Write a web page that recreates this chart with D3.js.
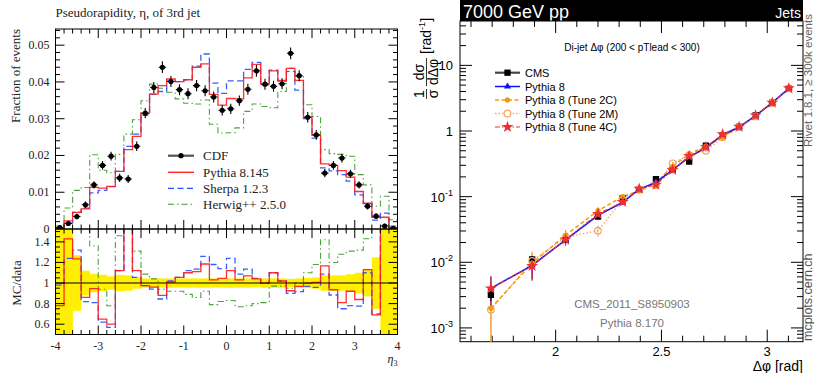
<!DOCTYPE html>
<html><head><meta charset="utf-8">
<script src="https://cdn.jsdelivr.net/npm/d3@7"></script>
<style>body{margin:0;background:#fff}svg{display:block}</style>
</head><body>
<svg id="c" width="814" height="373"></svg>
<script>
// ---------------- LEFT PANEL DATA ----------------
const etaEdges = [-4,-3.8,-3.6,-3.4,-3.2,-3,-2.8,-2.6,-2.4,-2.2,-2,-1.8,-1.6,-1.4,-1.2,-1,-0.8,-0.6,-0.4,-0.2,0,0.2,0.4,0.6,0.8,1,1.2,1.4,1.6,1.8,2,2.2,2.4,2.6,2.8,3,3.2,3.4,3.6,3.8,4];
const cdf = [0.0004,0.0015,0.0034,0.0066,0.0120,0.0173,0.0198,0.0139,0.0136,0.0225,0.0315,0.0385,0.0440,0.0401,0.0379,0.0368,0.0390,0.0376,0.0359,0.0323,0.0327,0.0349,0.0380,0.0430,0.0394,0.0388,0.0395,0.0478,0.0417,0.0304,0.0256,0.0152,0.0173,0.0193,0.0150,0.0120,0.0062,0.0035,0.0008,0.0002];
const cdfErr = [0.0004,0.0006,0.0008,0.0009,0.0010,0.0012,0.0012,0.0011,0.0011,0.0013,0.0014,0.0015,0.0016,0.0015,0.0015,0.0015,0.0015,0.0015,0.0015,0.0014,0.0014,0.0014,0.0015,0.0016,0.0015,0.0015,0.0015,0.0016,0.0015,0.0014,0.0013,0.0011,0.0012,0.0012,0.0011,0.0010,0.0009,0.0008,0.0006,0.0004];
const pythia = [0.0003,0.0022,0.0045,0.0055,0.0113,0.0111,0.0116,0.0157,0.0216,0.0252,0.0315,0.0367,0.0390,0.0408,0.0401,0.0406,0.0440,0.0449,0.0366,0.0337,0.0355,0.0354,0.0411,0.0448,0.0394,0.0430,0.0404,0.0437,0.0404,0.0304,0.0255,0.0177,0.0173,0.0159,0.0141,0.0102,0.0070,0.0032,0.0032,0.0004];
const sherpa = [0.0004,0.0016,0.0045,0.0057,0.0098,0.0105,0.0115,0.0157,0.0225,0.0258,0.0310,0.0367,0.0374,0.0403,0.0401,0.0406,0.0443,0.0476,0.0397,0.0369,0.0403,0.0403,0.0434,0.0453,0.0391,0.0432,0.0402,0.0429,0.0378,0.0300,0.0247,0.0166,0.0158,0.0148,0.0130,0.0093,0.0069,0.0024,0.0043,0.0008];
const herwig = [0.0008,0.0057,0.0105,0.0113,0.0202,0.0160,0.0153,0.0203,0.0258,0.0297,0.0349,0.0394,0.0383,0.0372,0.0354,0.0342,0.0340,0.0351,0.0285,0.0261,0.0262,0.0275,0.0320,0.0340,0.0333,0.0330,0.0374,0.0437,0.0415,0.0338,0.0306,0.0216,0.0205,0.0203,0.0198,0.0148,0.0120,0.0062,0.0089,0.0025];
const bandHalf = [1,1,0.27,0.12,0.09,0.08,0.065,0.08,0.075,0.055,0.045,0.045,0.045,0.045,0.045,0.045,0.045,0.045,0.045,0.045,0.045,0.045,0.045,0.04,0.045,0.045,0.045,0.04,0.045,0.05,0.055,0.075,0.075,0.075,0.085,0.1,0.13,0.25,1,1];
const ratioPythia = [0.78,1.43,1.235,0.86,0.945,0.65,0.60,1.12,1.60,1.12,0.975,0.96,0.88,1.01,1.055,1.10,1.11,1.185,1.03,1.045,1.12,1.03,1.07,1.04,1.00,1.10,1.02,0.925,0.967,1.00,1.006,1.167,0.935,0.81,0.92,0.84,1.13,0.69,2.0,2.0];
const ratioSherpa = [0.98,1.24,1.32,0.82,0.81,0.62,0.57,1.12,1.70,1.055,0.975,0.94,0.845,1.02,1.055,1.12,1.135,1.26,1.18,1.14,1.24,1.087,1.135,1.045,1.00,1.10,1.02,0.90,0.916,0.967,0.957,1.087,0.884,0.75,0.78,0.775,1.10,0.70,2.0,2.0];
const ratioHerwig = [2.0,2.0,2.0,2.0,1.36,0.94,0.78,1.46,2.0,1.31,1.087,1.04,0.94,0.92,0.92,0.89,0.86,0.92,0.79,0.82,0.83,0.77,0.78,0.80,0.81,0.97,0.97,0.95,1.0,1.1,1.18,1.42,1.2,1.28,1.31,1.32,1.43,2.0,2.0,2.0];
const etaTicks = [-4,-3,-2,-1,0,1,2,3,4];
const fracTicks = [0,0.01,0.02,0.03,0.04,0.05];
const fracTickLabels = ["0","0.01","0.02","0.03","0.04","0.05"];
const ratioTicks = [0.6,0.8,1,1.2,1.4];
const ratioTickLabels = ["0.6","0.8","1","1.2","1.4"];
const leftLegend = ["CDF","Pythia 8.145","Sherpa 1.2.3","Herwig++ 2.5.0"];

// ---------------- RIGHT PANEL DATA ----------------
const dphi = [1.694,1.889,2.047,2.200,2.317,2.395,2.474,2.553,2.631,2.710,2.789,2.867,2.945,3.024,3.102];
const cms = [0.00318,0.0111,0.0219,0.0495,0.095,0.127,0.184,0.26,0.341,0.597,0.85,1.16,1.73,2.70,4.47];
const cmsErr = [0.0006,0.0012,0.0015,0.003,0.004,0.005,0.006,0.008,0.01,0.015,0.02,0.025,0.03,0.04,0.06];
const py8 = [0.0040,0.0090,0.0220,0.052,0.082,0.130,0.165,0.255,0.40,0.56,0.87,1.15,1.72,2.70,4.45];
const py8Err = [0.0021,0.0035,0.004,0.006,0.007,0.008,0.01,0.012,0.02,0.02,0.03,0.03,0.04,0.05,0.06];
const tune2c = [0.0020,0.0097,0.026,0.061,0.100,0.122,0.162,0.29,0.447,0.59,0.80,1.14,1.70,2.70,4.47];
const tune2cErr = [0.0020,0.0045,0.005,0.008,0.01,0.01,0.012,0.015,0.02,0.02,0.03,0.03,0.04,0.05,0.06];
const tune2m = [0.0019,0.0105,0.024,0.0303,0.090,0.130,0.150,0.322,0.43,0.50,0.80,1.15,1.67,2.68,4.47];
const tune2mErr = [0.0019,0.004,0.005,0.006,0.01,0.01,0.012,0.015,0.02,0.02,0.03,0.03,0.04,0.05,0.06];
const tune4c = [0.0040,0.0088,0.0222,0.0544,0.083,0.132,0.152,0.255,0.416,0.57,0.89,1.16,1.73,2.70,4.47];
const tune4cErr = [0.0021,0.0035,0.004,0.006,0.007,0.008,0.01,0.012,0.02,0.02,0.03,0.03,0.04,0.05,0.06];
const dphiMajor = [2,2.5,3];
const dphiMajorLabels = ["2","2.5","3"];
const logMajor = [1e-3,1e-2,1e-1,1,10];
const logMajorLabels = [["10","-3"],["10","-2"],["10","-1"],["1",""],["10",""]];
const rightLegend = ["CMS","Pythia 8","Pythia 8 (Tune 2C)","Pythia 8 (Tune 2M)","Pythia 8 (Tune 4C)"];

// ---------------- DRAW ----------------
const svg = d3.select("#c");
const serif = "'Liberation Serif','DejaVu Serif',serif";
const sans = "'Liberation Sans',Arial,sans-serif";
const defs = svg.append("defs");

// Left geometry
const LX0 = 55.5, LX1 = 397.5, LYT = 29, LYM = 229, LYB = 334.5;
const xL = d3.scaleLinear().domain([-4,4]).range([LX0,LX1]);
const yT = d3.scaleLinear().domain([0,0.0544]).range([LYM,LYT]);
const yRt = d3.scaleLinear().domain([0.5,1.525]).range([LYB,LYM]);

defs.append("clipPath").attr("id","clipTop").append("rect").attr("x",LX0).attr("y",LYT).attr("width",LX1-LX0).attr("height",LYM-LYT);
defs.append("clipPath").attr("id","clipRat").append("rect").attr("x",LX0).attr("y",LYM).attr("width",LX1-LX0).attr("height",LYB-LYM);

const C_PY = "#ff1a1a", C_SH = "#1f4fff", C_HW = "#3a9a2a";

// Ratio band
const gRat = svg.append("g").attr("clip-path","url(#clipRat)");
gRat.selectAll("rect.band").data(bandHalf).join("rect")
  .attr("x",(d,i)=>xL(etaEdges[i])).attr("width",(d,i)=>xL(etaEdges[i+1])-xL(etaEdges[i])+0.3)
  .attr("y",d=>yRt(1+d)).attr("height",d=>yRt(1-d)-yRt(1+d)).attr("fill","#ffef00");

function stepLine(vals, y){
  const pts = etaEdges.map((e,i)=>[e, vals[Math.min(i,vals.length-1)]]);
  return d3.line().x(d=>xL(d[0])).y(d=>y(d[1])).curve(d3.curveStepAfter)(pts);
}
const styles = [
  {vals:herwig, rat:ratioHerwig, c:C_HW, dash:"6,3,1.5,3", w:1.1},
  {vals:sherpa, rat:ratioSherpa, c:C_SH, dash:"6,3.5", w:1.3},
  {vals:pythia, rat:ratioPythia, c:C_PY, dash:null, w:1.3}
];
styles.forEach(s=>{
  gRat.append("path").attr("d",stepLine(s.rat,yRt)).attr("fill","none").attr("stroke",s.c)
    .attr("stroke-width",s.w).attr("stroke-dasharray",s.dash).attr("stroke-opacity",0.9);
});
// reference line at 1
gRat.append("line").attr("x1",LX0).attr("x2",LX1).attr("y1",yRt(1)).attr("y2",yRt(1)).attr("stroke","#000").attr("stroke-width",1.1);
const gTop = svg.append("g").attr("clip-path","url(#clipTop)");
styles.forEach(s=>{
  gTop.append("path").attr("d",stepLine(s.vals,yT)).attr("fill","none").attr("stroke",s.c)
    .attr("stroke-width",s.w).attr("stroke-dasharray",s.dash).attr("stroke-opacity",0.9);
});
// CDF points
const cen = cdf.map((v,i)=>(etaEdges[i]+etaEdges[i+1])/2);
const gPts = gTop.append("g");
cdf.forEach((v,i)=>{
  const cx = xL(cen[i]);
  gPts.append("line").attr("x1",cx).attr("x2",cx).attr("y1",yT(v-cdfErr[i])).attr("y2",yT(v+cdfErr[i])).attr("stroke","#000").attr("stroke-width",1.1);
  gPts.append("line").attr("x1",xL(cen[i]-0.085)).attr("x2",xL(cen[i]+0.085)).attr("y1",yT(v)).attr("y2",yT(v)).attr("stroke","#000").attr("stroke-width",1.1);
  gPts.append("circle").attr("cx",cx).attr("cy",yT(v)).attr("r",2.6).attr("fill","#000");
});

// Frames & ticks (left)
const gAx = svg.append("g").attr("stroke","#000").attr("stroke-width",1);
gAx.append("rect").attr("x",LX0).attr("y",LYT).attr("width",LX1-LX0).attr("height",LYM-LYT).attr("fill","none");
gAx.append("rect").attr("x",LX0).attr("y",LYM).attr("width",LX1-LX0).attr("height",LYB-LYM).attr("fill","none");
function hTicks(scale, vals, y, dir, len){
  vals.forEach(v=>gAx.append("line").attr("x1",scale(v)).attr("x2",scale(v)).attr("y1",y).attr("y2",y+dir*len));
}
function vTicks(scale, vals, x, dir, len){
  vals.forEach(v=>gAx.append("line").attr("x1",x).attr("x2",x+dir*len).attr("y1",scale(v)).attr("y2",scale(v)));
}
const etaMinor = d3.range(-40,41,2).map(k=>k/10).filter(v=>Math.abs(v-Math.round(v))>1e-6);
[[LYT,1],[LYM,-1],[LYM,1],[LYB,-1]].forEach(([y,dir])=>{
  hTicks(xL, etaTicks.filter(v=>v>-4&&v<4), y, dir, 9);
  hTicks(xL, etaMinor, y, dir, 4.5);
});
const fracMinor = d3.range(1,28).map(k=>k*0.002).filter(v=>Math.abs(v*100-Math.round(v*100))>1e-6);
[[LX0,1],[LX1,-1]].forEach(([x,dir])=>{
  vTicks(yT, fracTicks.filter(v=>v>0), x, dir, 9);
  vTicks(yT, fracMinor, x, dir, 4.5);
  vTicks(yRt, ratioTicks, x, dir, 9);
  vTicks(yRt, d3.range(11,31).map(k=>k*0.05).filter(v=>Math.abs(v*5-Math.round(v*5))>1e-6), x, dir, 4.5);
});
// left tick labels
const gLab = svg.append("g").attr("font-family",serif).attr("fill","#222");
fracTicks.forEach((v,i)=>gLab.append("text").attr("x",LX0-6).attr("y",yT(v)+4).attr("text-anchor","end").attr("font-size",12).text(fracTickLabels[i]));
ratioTicks.forEach((v,i)=>gLab.append("text").attr("x",LX0-6).attr("y",yRt(v)+4).attr("text-anchor","end").attr("font-size",12).text(ratioTickLabels[i]));
etaTicks.forEach(v=>gLab.append("text").attr("x",xL(v)).attr("y",LYB+15).attr("text-anchor","middle").attr("font-size",12).text(String(v)));
gLab.append("text").attr("x",LX0).attr("y",17).attr("font-size",13).text("Pseudorapidity, η, of 3rd jet");
gLab.append("text").attr("transform",`translate(20,${LYT}) rotate(-90)`).attr("text-anchor","end").attr("font-size",13).text("Fraction of events");
gLab.append("text").attr("transform",`translate(21,283) rotate(-90)`).attr("text-anchor","middle").attr("font-size",13).text("MC/data");
const xl = gLab.append("text").attr("x",LX1).attr("y",363).attr("text-anchor","end").attr("font-size",12);
xl.append("tspan").attr("font-style","italic").text("η");
xl.append("tspan").attr("font-size",8).attr("dy",2.5).text("3");

// left legend
const legY = [155.7,172.3,188.3,204.2];
const gLeg = svg.append("g");
gLeg.append("line").attr("x1",168).attr("x2",194).attr("y1",legY[0]).attr("y2",legY[0]).attr("stroke","#555").attr("stroke-width",2.2);
gLeg.append("circle").attr("cx",181).attr("cy",legY[0]).attr("r",2.6).attr("fill","#000");
gLeg.append("line").attr("x1",168).attr("x2",194).attr("y1",legY[1]).attr("y2",legY[1]).attr("stroke",C_PY).attr("stroke-width",1.3);
gLeg.append("line").attr("x1",168).attr("x2",194).attr("y1",legY[2]).attr("y2",legY[2]).attr("stroke",C_SH).attr("stroke-width",1.3).attr("stroke-dasharray","6,3.5");
gLeg.append("line").attr("x1",168).attr("x2",194).attr("y1",legY[3]).attr("y2",legY[3]).attr("stroke",C_HW).attr("stroke-width",1.1).attr("stroke-dasharray","6,3,1.5,3");
leftLegend.forEach((t,i)=>gLeg.append("text").attr("x",203).attr("y",legY[i]+4.5).attr("font-family",serif).attr("font-size",13).attr("fill","#222").text(t));

// ---------------- RIGHT PANEL ----------------
const RX0 = 460, RX1 = 803, RY0 = 21, RY1 = 341.7;
const xP = d3.scaleLinear().domain([1.548,3.169]).range([RX0,RX1]);
const yP = d3.scaleLog().domain([6.17e-4,47.4]).range([RY1,RY0]);
defs.append("clipPath").attr("id","clipR").append("rect").attr("x",RX0).attr("y",RY0).attr("width",RX1-RX0).attr("height",RY1-RY0);

svg.append("rect").attr("x",RX0).attr("y",0).attr("width",RX1-RX0).attr("height",RY0).attr("fill","#000");
svg.append("text").attr("x",RX0+3).attr("y",17.5).attr("font-family",sans).attr("font-size",18).attr("fill","#fff").text("7000 GeV pp");
svg.append("text").attr("x",RX1-2).attr("y",17.5).attr("text-anchor","end").attr("font-family",sans).attr("font-size",14).attr("fill","#fff").text("Jets");

const gR = svg.append("g").attr("stroke","#000").attr("stroke-width",1);
gR.append("rect").attr("x",RX0).attr("y",RY0).attr("width",RX1-RX0).attr("height",RY1-RY0).attr("fill","none");
const dMinor = d3.range(16,32).map(k=>k/10).filter(v=>Math.abs(v*2-Math.round(v*2))>1e-6);
[[RY0,1],[RY1,-1]].forEach(([y,dir])=>{
  dphiMajor.forEach(v=>gR.append("line").attr("x1",xP(v)).attr("x2",xP(v)).attr("y1",y).attr("y2",y+dir*12));
  dMinor.forEach(v=>gR.append("line").attr("x1",xP(v)).attr("x2",xP(v)).attr("y1",y).attr("y2",y+dir*6));
});
const logMinor = [];
[1e-4,1e-3,1e-2,1e-1,1,10].forEach(d=>{for(let k=2;k<=9;k++){const v=d*k; if(v>6.17e-4&&v<47.4) logMinor.push(v);}});
[[RX0,1],[RX1,-1]].forEach(([x,dir])=>{
  logMajor.forEach(v=>gR.append("line").attr("x1",x).attr("x2",x+dir*12).attr("y1",yP(v)).attr("y2",yP(v)));
  logMinor.forEach(v=>gR.append("line").attr("x1",x).attr("x2",x+dir*6).attr("y1",yP(v)).attr("y2",yP(v)));
});
const gRL = svg.append("g").attr("font-family",sans).attr("fill","#000");
logMajor.forEach((v,i)=>{
  const t = gRL.append("text").attr("x",453).attr("y",yP(v)+5).attr("text-anchor","end").attr("font-size",13);
  t.append("tspan").text(logMajorLabels[i][0]);
  if(logMajorLabels[i][1]) t.append("tspan").attr("dy",-6).attr("font-size",9).text(logMajorLabels[i][1]);
});
dphiMajor.forEach((v,i)=>gRL.append("text").attr("x",xP(v)).attr("y",RY1+14).attr("text-anchor","middle").attr("font-size",13).text(dphiMajorLabels[i]));
gRL.append("text").attr("x",RX1).attr("y",370.5).attr("text-anchor","end").attr("font-size",14).text("Δφ [rad]");
// y label
const yl = gRL.append("g").attr("transform","translate(426,78) rotate(-90)").attr("font-size",14);
yl.append("text").attr("x",-16).attr("y",-2).attr("text-anchor","middle").text("1");
yl.append("text").attr("x",-16).attr("y",11.5).attr("text-anchor","middle").text("σ");
yl.append("line").attr("x1",-21).attr("x2",-11).attr("y1",0.5).attr("y2",0.5).attr("stroke","#000").attr("stroke-width",0.8);
yl.append("text").attr("x",6).attr("y",-2).attr("text-anchor","middle").text("dσ");
yl.append("text").attr("x",6).attr("y",11.5).attr("text-anchor","middle").text("dΔφ");
yl.append("line").attr("x1",-8).attr("x2",20).attr("y1",0.5).attr("y2",0.5).attr("stroke","#000").attr("stroke-width",0.8);
const rl = yl.append("text").attr("x",24).attr("y",5);
rl.append("tspan").text("[rad");
rl.append("tspan").attr("dy",-6).attr("font-size",9).text("-1");
rl.append("tspan").attr("dy",6).text("]");

// side texts
svg.append("text").attr("transform","translate(812,147) rotate(-90)").attr("font-family",sans).attr("font-size",11.5).attr("fill","#666").text("Rivet 1.8.1,  ≥ 300k events");
svg.append("text").attr("transform","translate(812,341) rotate(-90)").attr("font-family",sans).attr("font-size",12.5).attr("fill","#555").text("mcplots.cern.ch");
svg.append("text").attr("x",632).attr("y",51).attr("text-anchor","middle").attr("font-family",sans).attr("font-size",10).text("Di-jet Δφ (200 < pTlead <  300)");
svg.append("text").attr("x",632).attr("y",308).attr("text-anchor","middle").attr("font-family",sans).attr("font-size",11.5).attr("fill","#777").text("CMS_2011_S8950903");
svg.append("text").attr("x",632).attr("y",327).attr("text-anchor","middle").attr("font-family",sans).attr("font-size",11.5).attr("fill","#777").text("Pythia 8.170");

// series
const C_B = "#1010ff", C_2C = "#f09a10", C_2M = "#f0a860", C_4C = "#f03030";
const gD = svg.append("g").attr("clip-path","url(#clipR)");
const ln = d3.line().x((d,i)=>xP(dphi[i])).y(d=>yP(d));
function errBars(vals, errs, color, w){
  vals.forEach((v,i)=>{
    const lo = Math.max(v-errs[i], 1e-5);
    gD.append("line").attr("x1",xP(dphi[i])).attr("x2",xP(dphi[i])).attr("y1",yP(lo)).attr("y2",yP(v+errs[i])).attr("stroke",color).attr("stroke-width",w);
  });
}
errBars(tune2c, tune2cErr, C_2C, 1.2);
errBars(tune2m, tune2mErr, C_2M, 1.0);
errBars(py8, py8Err, C_B, 1.2);
errBars(tune4c, tune4cErr, C_4C, 1.0);
errBars(cms, cmsErr, "#000", 1.0);
gD.append("path").attr("d",ln(tune2m)).attr("fill","none").attr("stroke",C_2M).attr("stroke-width",1.3).attr("stroke-dasharray","1.5,2");
gD.append("path").attr("d",ln(tune2c)).attr("fill","none").attr("stroke",C_2C).attr("stroke-width",1.5).attr("stroke-dasharray","4,2.5");
gD.append("path").attr("d",ln(py8)).attr("fill","none").attr("stroke",C_B).attr("stroke-width",1.5);
gD.append("path").attr("d",ln(tune4c)).attr("fill","none").attr("stroke",C_4C).attr("stroke-width",1.2).attr("stroke-dasharray","5,2,1.5,2");
const sq = d3.symbol().type(d3.symbolSquare).size(40);
const tri = d3.symbol().type(d3.symbolTriangle).size(22);
const circF = d3.symbol().type(d3.symbolCircle).size(22);
const star = d3.symbol().type(d3.symbolStar).size(45);
cms.forEach((v,i)=>gD.append("path").attr("d",sq()).attr("transform",`translate(${xP(dphi[i])},${yP(v)})`).attr("fill","#000"));
tune2m.forEach((v,i)=>gD.append("circle").attr("cx",xP(dphi[i])).attr("cy",yP(v)).attr("r",3.3).attr("fill","none").attr("stroke",C_2M).attr("stroke-width",1.2));
tune2c.forEach((v,i)=>gD.append("path").attr("d",circF()).attr("transform",`translate(${xP(dphi[i])},${yP(v)})`).attr("fill",C_2C));
py8.forEach((v,i)=>gD.append("path").attr("d",tri()).attr("transform",`translate(${xP(dphi[i])},${yP(v)})`).attr("fill",C_B));
tune4c.forEach((v,i)=>gD.append("path").attr("d",star()).attr("transform",`translate(${xP(dphi[i])},${yP(v)})`).attr("fill",C_4C));

// right legend
const rlY = [72.7,86.5,100,113.5,127];
const gRLeg = svg.append("g");
const legStyles = [
  {c:"#444", w:2.2, dash:null, m:"sq"},
  {c:C_B, w:1.5, dash:null, m:"tri"},
  {c:C_2C, w:1.5, dash:"4,2.5", m:"circF"},
  {c:C_2M, w:1.3, dash:"1.5,2", m:"circO"},
  {c:C_4C, w:1.2, dash:"5,2,1.5,2", m:"star"}
];
legStyles.forEach((s,i)=>{
  const y = rlY[i];
  gRLeg.append("line").attr("x1",495).attr("x2",520).attr("y1",y).attr("y2",y).attr("stroke",s.c).attr("stroke-width",s.w).attr("stroke-dasharray",s.dash);
  const tr = `translate(507.5,${y})`;
  if(s.m==="sq") gRLeg.append("path").attr("d",sq()).attr("transform",tr).attr("fill","#000");
  if(s.m==="tri") gRLeg.append("path").attr("d",tri()).attr("transform",tr).attr("fill",C_B);
  if(s.m==="circF") gRLeg.append("path").attr("d",circF()).attr("transform",tr).attr("fill",C_2C);
  if(s.m==="circO") gRLeg.append("circle").attr("cx",507.5).attr("cy",y).attr("r",3.3).attr("fill","#fff").attr("stroke",C_2M).attr("stroke-width",1.2);
  if(s.m==="star") gRLeg.append("path").attr("d",star()).attr("transform",tr).attr("fill",C_4C);
  gRLeg.append("text").attr("x",525).attr("y",y+4).attr("font-family",sans).attr("font-size",11).text(rightLegend[i]);
});
</script>
</body></html>
